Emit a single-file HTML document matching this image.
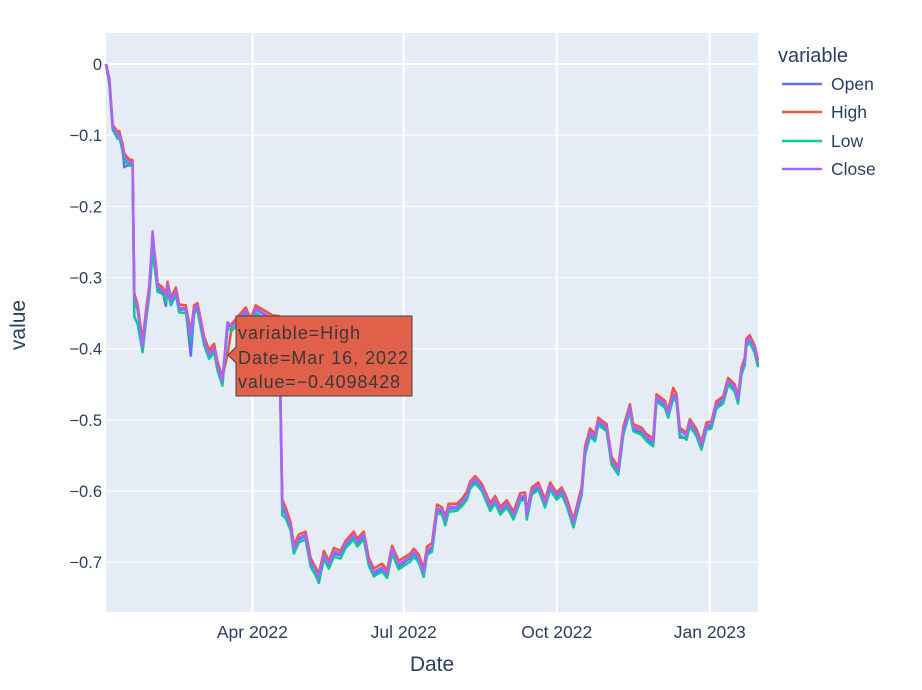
<!DOCTYPE html>
<html><head><meta charset="utf-8"><style>
html,body{margin:0;padding:0;background:#fff;}
svg{display:block;font-family:"Liberation Sans",sans-serif;}
</style></head><body>
<svg id="chart" width="922" height="690" viewBox="0 0 922 690" xmlns="http://www.w3.org/2000/svg">
<rect x="106" y="33" width="652" height="579" fill="#e5ecf6"/>
<g id="grid"></g><g id="series"></g><g id="axes"></g>
<text x="432" y="671" font-size="21" fill="#2a3f5f" text-anchor="middle">Date</text>
<text x="25" y="325" font-size="21" fill="#2a3f5f" text-anchor="middle" transform="rotate(-90 25 325)">value</text>
<g>
<text x="778" y="62" font-size="20" fill="#2a3f5f">variable</text>
<g><line x1="782" y1="84" x2="822" y2="84" stroke="#636efa" stroke-width="2.5"/><text x="831" y="90" font-size="17.5" fill="#2a3f5f">Open</text></g>
<g><line x1="782" y1="112" x2="822" y2="112" stroke="#EF553B" stroke-width="2.5"/><text x="831" y="118" font-size="17.5" fill="#2a3f5f">High</text></g>
<g><line x1="782" y1="141" x2="822" y2="141" stroke="#00cc96" stroke-width="2.5"/><text x="831" y="147" font-size="17.5" fill="#2a3f5f">Low</text></g>
<g><line x1="782" y1="169" x2="822" y2="169" stroke="#ab63fa" stroke-width="2.5"/><text x="831" y="175" font-size="17.5" fill="#2a3f5f">Close</text></g>
</g>
<g>
<path d="M228,355 L236,347 L236,316 L412,316 L412,396 L236,396 L236,363 Z" fill="#e0604a" stroke="#444" stroke-width="1"/>
<text x="238" y="339" font-size="18" fill="#3a3a3a" textLength="122">variable=High</text>
<text x="238" y="364" font-size="18" fill="#3a3a3a" textLength="170">Date=Mar 16, 2022</text>
<text x="238" y="388" font-size="18" fill="#3a3a3a" textLength="162">value=−0.4098428</text>
</g>
</svg>
<script>
const dates=["2022-01-03","2022-01-05","2022-01-07","2022-01-10","2022-01-11","2022-01-13","2022-01-14","2022-01-17","2022-01-19","2022-01-20",
"2022-01-22","2022-01-25","2022-01-27","2022-01-29","2022-01-31","2022-02-02","2022-02-03","2022-02-06","2022-02-08","2022-02-09",
"2022-02-11","2022-02-14","2022-02-16","2022-02-20","2022-02-23","2022-02-25","2022-02-27","2022-03-03","2022-03-06","2022-03-09",
"2022-03-11","2022-03-14","2022-03-17","2022-03-20","2022-03-28","2022-03-31","2022-04-03","2022-04-13","2022-04-17","2022-04-19",
"2022-04-21","2022-04-24","2022-04-26","2022-04-29","2022-05-03","2022-05-06","2022-05-11","2022-05-14","2022-05-17","2022-05-20",
"2022-05-24","2022-05-27","2022-06-01","2022-06-03","2022-06-07","2022-06-10","2022-06-13","2022-06-18","2022-06-21","2022-06-24",
"2022-06-28","2022-07-05","2022-07-07","2022-07-10","2022-07-13","2022-07-15","2022-07-18","2022-07-21","2022-07-24","2022-07-26",
"2022-07-28","2022-08-02","2022-08-05","2022-08-08","2022-08-10","2022-08-13","2022-08-17","2022-08-22","2022-08-25","2022-08-28",
"2022-09-01","2022-09-05","2022-09-09","2022-09-12","2022-09-13","2022-09-16","2022-09-20","2022-09-24","2022-09-27","2022-10-01",
"2022-10-04","2022-10-07","2022-10-11","2022-10-16","2022-10-18","2022-10-21","2022-10-24","2022-10-26","2022-10-31","2022-11-03",
"2022-11-07","2022-11-10","2022-11-14","2022-11-16","2022-11-21","2022-11-24","2022-11-28","2022-11-30","2022-12-05","2022-12-07",
"2022-12-10","2022-12-12","2022-12-14","2022-12-18","2022-12-20","2022-12-24","2022-12-27","2022-12-30","2023-01-02","2023-01-05",
"2023-01-09","2023-01-12","2023-01-16","2023-01-18","2023-01-20","2023-01-22","2023-01-23","2023-01-25","2023-01-28","2023-01-30"];
const openVals=[0,-0.025,-0.090,-0.101,-0.099,-0.120,-0.145,-0.141,-0.140,-0.330,
-0.345,-0.396,-0.355,-0.320,-0.250,-0.292,-0.316,-0.320,-0.340,-0.313,
-0.336,-0.321,-0.345,-0.345,-0.410,-0.346,-0.342,-0.390,-0.410,-0.400,
-0.425,-0.447,-0.370,-0.366,-0.348,-0.365,-0.345,-0.360,-0.360,-0.625,
-0.632,-0.651,-0.684,-0.668,-0.663,-0.702,-0.729,-0.692,-0.706,-0.688,
-0.690,-0.676,-0.663,-0.673,-0.664,-0.702,-0.717,-0.709,-0.719,-0.683,
-0.706,-0.694,-0.688,-0.697,-0.718,-0.686,-0.681,-0.626,-0.630,-0.644,
-0.625,-0.624,-0.618,-0.609,-0.592,-0.585,-0.597,-0.625,-0.614,-0.630,
-0.620,-0.637,-0.611,-0.609,-0.637,-0.602,-0.595,-0.620,-0.595,-0.609,
-0.602,-0.618,-0.650,-0.602,-0.546,-0.520,-0.527,-0.504,-0.513,-0.560,
-0.574,-0.518,-0.485,-0.513,-0.518,-0.527,-0.534,-0.472,-0.480,-0.494,
-0.467,-0.471,-0.525,-0.525,-0.506,-0.520,-0.539,-0.511,-0.509,-0.481,
-0.474,-0.448,-0.457,-0.474,-0.434,-0.420,-0.393,-0.388,-0.403,-0.423];
const highVals=[0,-0.020,-0.085,-0.096,-0.094,-0.113,-0.126,-0.134,-0.135,-0.322,
-0.338,-0.390,-0.347,-0.312,-0.245,-0.280,-0.308,-0.314,-0.323,-0.306,
-0.328,-0.314,-0.338,-0.339,-0.376,-0.339,-0.336,-0.383,-0.402,-0.393,
-0.418,-0.440,-0.410,-0.364,-0.342,-0.358,-0.339,-0.353,-0.354,-0.612,
-0.623,-0.644,-0.676,-0.661,-0.657,-0.694,-0.716,-0.684,-0.698,-0.680,
-0.684,-0.670,-0.657,-0.667,-0.657,-0.694,-0.709,-0.702,-0.711,-0.677,
-0.698,-0.688,-0.681,-0.689,-0.709,-0.678,-0.673,-0.619,-0.623,-0.636,
-0.618,-0.618,-0.611,-0.601,-0.586,-0.579,-0.590,-0.617,-0.607,-0.622,
-0.613,-0.629,-0.603,-0.602,-0.629,-0.595,-0.588,-0.612,-0.588,-0.602,
-0.595,-0.610,-0.640,-0.594,-0.538,-0.512,-0.520,-0.497,-0.506,-0.552,
-0.566,-0.510,-0.478,-0.506,-0.511,-0.520,-0.526,-0.464,-0.473,-0.487,
-0.455,-0.464,-0.511,-0.518,-0.499,-0.513,-0.531,-0.504,-0.502,-0.474,
-0.467,-0.441,-0.450,-0.467,-0.427,-0.413,-0.386,-0.381,-0.396,-0.416];
const lowVals=[0,-0.028,-0.092,-0.105,-0.102,-0.123,-0.135,-0.143,-0.143,-0.355,
-0.365,-0.405,-0.362,-0.326,-0.262,-0.300,-0.320,-0.323,-0.334,-0.318,
-0.339,-0.324,-0.349,-0.350,-0.390,-0.350,-0.346,-0.395,-0.414,-0.405,
-0.430,-0.452,-0.372,-0.374,-0.352,-0.369,-0.350,-0.365,-0.365,-0.634,
-0.638,-0.655,-0.688,-0.672,-0.668,-0.706,-0.727,-0.696,-0.709,-0.692,
-0.695,-0.680,-0.668,-0.678,-0.668,-0.705,-0.720,-0.713,-0.722,-0.688,
-0.710,-0.699,-0.692,-0.700,-0.721,-0.690,-0.685,-0.631,-0.633,-0.648,
-0.629,-0.628,-0.621,-0.612,-0.596,-0.589,-0.600,-0.628,-0.617,-0.633,
-0.623,-0.640,-0.614,-0.612,-0.640,-0.605,-0.598,-0.623,-0.598,-0.612,
-0.605,-0.621,-0.651,-0.605,-0.550,-0.523,-0.530,-0.507,-0.516,-0.563,
-0.577,-0.521,-0.488,-0.516,-0.521,-0.530,-0.537,-0.474,-0.483,-0.497,
-0.470,-0.474,-0.521,-0.528,-0.509,-0.523,-0.542,-0.514,-0.512,-0.484,
-0.477,-0.451,-0.460,-0.477,-0.437,-0.423,-0.396,-0.391,-0.406,-0.426];
const closeVals=[0,-0.023,-0.088,-0.100,-0.097,-0.118,-0.130,-0.138,-0.138,-0.328,
-0.343,-0.398,-0.353,-0.318,-0.235,-0.288,-0.313,-0.318,-0.328,-0.310,
-0.333,-0.318,-0.343,-0.343,-0.383,-0.343,-0.340,-0.388,-0.408,-0.398,
-0.423,-0.446,-0.363,-0.368,-0.346,-0.363,-0.343,-0.358,-0.358,-0.619,
-0.629,-0.649,-0.681,-0.666,-0.661,-0.699,-0.721,-0.689,-0.703,-0.685,
-0.688,-0.674,-0.661,-0.671,-0.661,-0.699,-0.714,-0.707,-0.716,-0.681,
-0.703,-0.692,-0.685,-0.694,-0.715,-0.683,-0.678,-0.624,-0.627,-0.641,
-0.622,-0.622,-0.615,-0.606,-0.590,-0.583,-0.594,-0.622,-0.611,-0.627,
-0.617,-0.634,-0.608,-0.606,-0.634,-0.599,-0.592,-0.617,-0.592,-0.606,
-0.599,-0.615,-0.645,-0.599,-0.543,-0.517,-0.524,-0.501,-0.510,-0.557,
-0.571,-0.515,-0.482,-0.510,-0.515,-0.524,-0.531,-0.468,-0.477,-0.491,
-0.464,-0.468,-0.515,-0.522,-0.503,-0.517,-0.536,-0.508,-0.506,-0.478,
-0.471,-0.445,-0.454,-0.471,-0.431,-0.417,-0.390,-0.385,-0.400,-0.420];
const yTicks=[0,-0.1,-0.2,-0.3,-0.4,-0.5,-0.6,-0.7];
const yTickLabels=["0","−0.1","−0.2","−0.3","−0.4","−0.5","−0.6","−0.7"];
const xTicks=["2022-04-01","2022-07-01","2022-10-01","2023-01-01"];
const xTickLabels=["Apr 2022","Jul 2022","Oct 2022","Jan 2023"];

const NS="http://www.w3.org/2000/svg";
const L=106,R=758,T=33,B=612;
const t0=Date.parse("2022-01-03"),t1=Date.parse("2023-01-30");
const yMax=0.0436,yMin=-0.770;
function xs(d){return L+(Date.parse(d)-t0)/(t1-t0)*(R-L);}
function ys(v){return T+(yMax-v)/(yMax-yMin)*(B-T);}
function mk(tag,parent){const e=document.createElementNS(NS,tag);parent.appendChild(e);return e;}
const grid=document.getElementById('grid'),axes=document.getElementById('axes'),ser=document.getElementById('series');
yTicks.forEach((v,i)=>{
  const g=mk('line',grid);
  
  
  g.setAttribute('x1',L);g.setAttribute('x2',R);g.setAttribute('y1',ys(v));g.setAttribute('y2',ys(v));
  g.setAttribute('stroke','#fff');g.setAttribute('stroke-width',v===0?2:1);
  const t=mk('text',axes);
  
  
  t.setAttribute('x',L-4);t.setAttribute('y',ys(v)+6);t.setAttribute('text-anchor','end');
  t.setAttribute('font-size','16.5');t.setAttribute('fill','#2a3f5f');t.textContent=yTickLabels[i];
});
xTicks.forEach((d,i)=>{
  const g=mk('line',grid);
  
  
  g.setAttribute('x1',xs(d));g.setAttribute('x2',xs(d));g.setAttribute('y1',T);g.setAttribute('y2',B);
  g.setAttribute('stroke','#fff');g.setAttribute('stroke-width',2);
  const t=mk('text',axes);
  
  
  t.setAttribute('x',xs(d));t.setAttribute('y',B+26);t.setAttribute('text-anchor','middle');
  t.setAttribute('font-size','17.5');t.setAttribute('fill','#2a3f5f');t.textContent=xTickLabels[i];
});
const seriesList=[["open",openVals,"#636efa"],["high",highVals,"#EF553B"],["low",lowVals,"#00cc96"],["close",closeVals,"#ab63fa"]];
seriesList.forEach(s=>{
  const p=mk('path',ser);
  
  
  p.setAttribute('d',s[1].map((v,i)=>(i?'L':'M')+xs(dates[i]).toFixed(1)+','+ys(v).toFixed(1)).join(''));
  p.setAttribute('fill','none');p.setAttribute('stroke',s[2]);p.setAttribute('stroke-width','2.5');p.setAttribute('stroke-linejoin','round');
});
</script>
</body></html>
